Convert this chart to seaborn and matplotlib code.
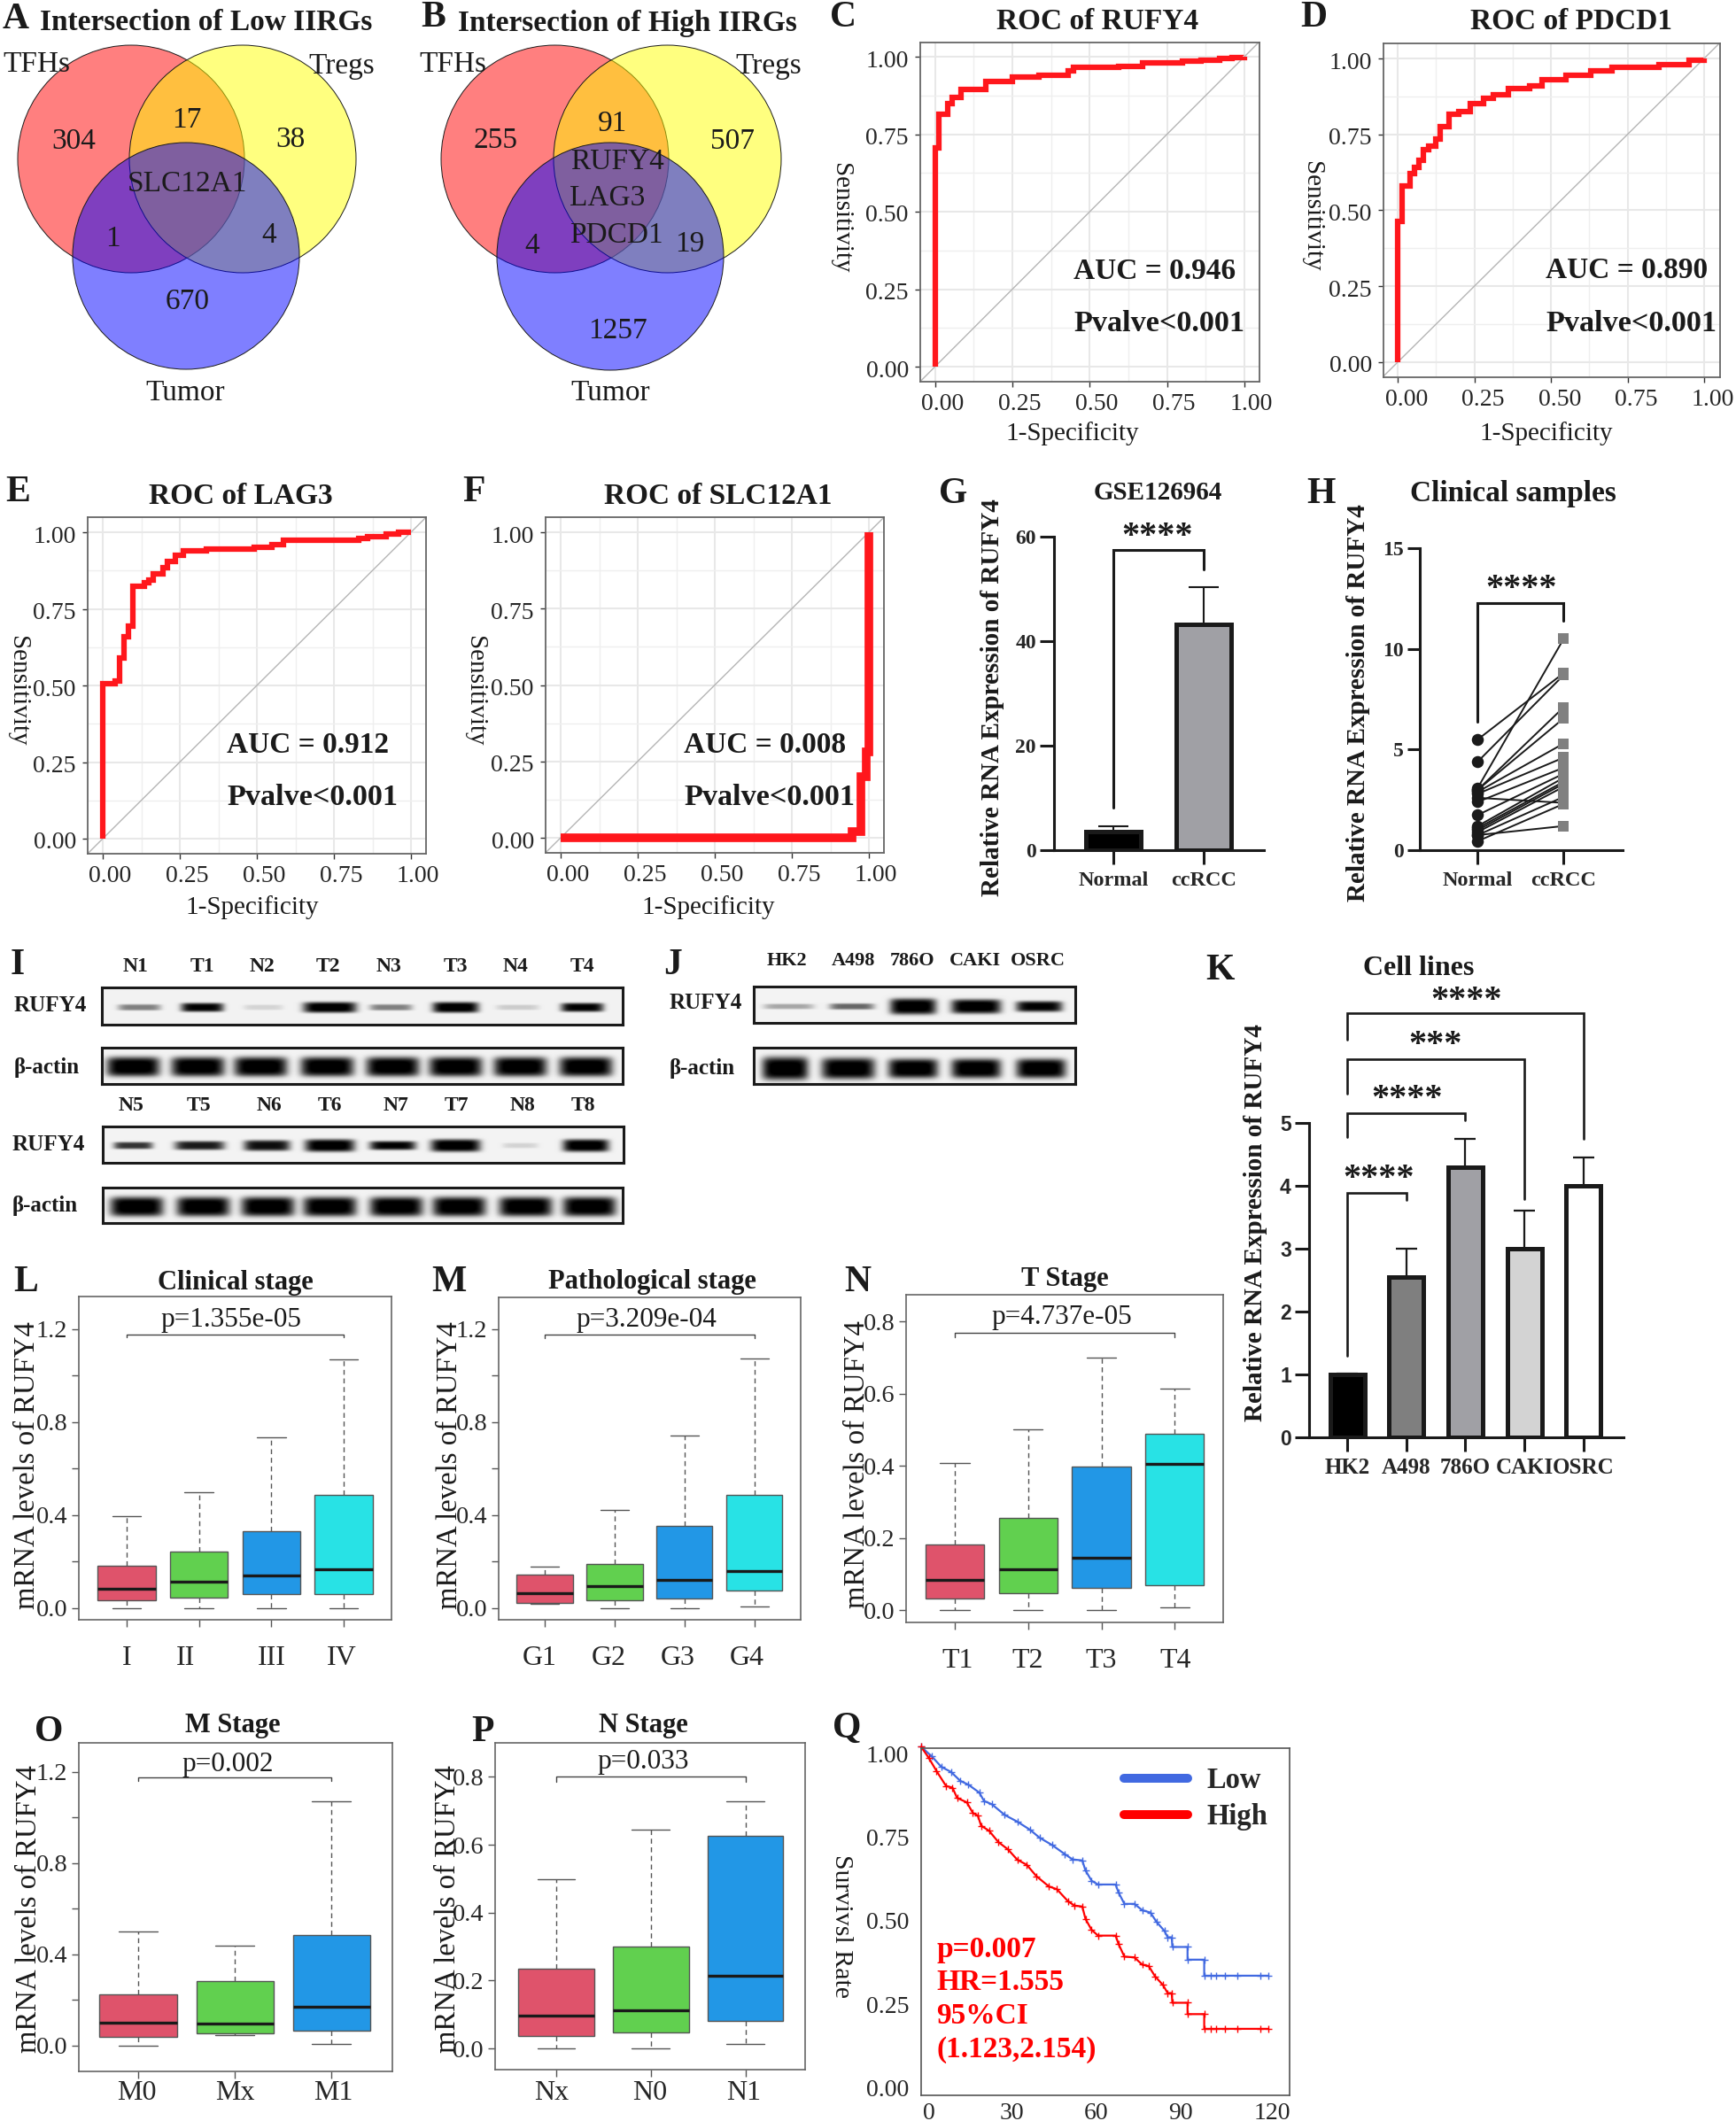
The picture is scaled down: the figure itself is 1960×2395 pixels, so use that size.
import numpy as np
import pandas as pd
import matplotlib
matplotlib.use("Agg")
import matplotlib.pyplot as plt
from matplotlib.patches import Ellipse
from matplotlib.lines import Line2D
from matplotlib.transforms import ScaledTranslation
import seaborn as sns

W, H = 1960, 2395
SERIF = "Liberation Serif"
sns.set_theme(style="white")
plt.rcParams["font.family"] = [SERIF, "DejaVu Sans"]

# ---------------------- data ----------------------
roc_c_x = [0, 0, .012, .04, .055, .084, .165, .25, .337, .43, .447, .594, .67, .80, .86, .92, .96, 1]
roc_c_y = [0, .705, .815, .85, .87, .895, .92, .935, .94, .955, .965, .97, .98, .985, .99, .995, .998, 1]
roc_d_x = [0, 0, .015, .04, .056, .07, .085, .10, .125, .14, .168, .2, .236, .28, .313, .36, .43, .47, .55, .63, .70, .853, .95, 1]
roc_d_y = [0, .465, .58, .62, .64, .665, .70, .71, .735, .775, .815, .825, .85, .87, .88, .90, .91, .93, .945, .96, .97, .98, .995, 1]
roc_e_x = [0, 0, .04, .054, .07, .084, .099, .135, .15, .164, .195, .21, .236, .262, .336, .49, .55, .586, .83, .86, .92, .96, 1]
roc_e_y = [0, .505, .515, .59, .66, .695, .825, .835, .845, .865, .885, .905, .925, .94, .945, .952, .96, .975, .98, .985, .995, 1, 1]
roc_f_x = [0, .945, .975, .99, 1.0]
roc_f_y = [0, .02, .2, .28, 1.0]

g_cats = ["Normal", "ccRCC"]
g_vals = [3.5, 43.3]
g_sd = [1.1, 7.0]

h_normal = [3.1, 5.5, 4.4, 3.0, 3.0, 2.9, 2.6, 2.8, 2.4, 1.75, 1.2, 1.1, 1.0, .9, .75, .45, .75]
h_ccrcc = [10.5, 8.8, 8.7, 7.1, 6.55, 5.3, 2.35, 4.6, 4.1, 3.8, 3.6, 3.4, 3.3, 3.15, 2.65, 2.3, 1.2]

k_cats = ["HK2", "A498", "786O", "CAKI", "OSRC"]
k_vals = [1.0, 2.55, 4.3, 3.0, 4.0]
k_sd = [.02, .45, .45, .6, .45]
k_colors = ["#000000", "#7f7f7f", "#a0a0a5", "#d3d3d3", "#ffffff"]

# box stats: low whisker, Q1, median, Q3, high whisker
l_cats = ["I", "II", "III", "IV"]
l_stats = [[0, .032, .083, .182, .396], [0, .047, .113, .244, .50], [0, .062, .142, .33, .733], [0, .062, .166, .488, 1.07]]
m_cats = ["G1", "G2", "G3", "G4"]
m_stats = [[.019, .024, .064, .145, .179], [0, .034, .093, .191, .421], [0, .041, .121, .355, .744], [.006, .074, .16, .488, 1.073]]
n_cats = ["T1", "T2", "T3", "T4"]
n_stats = [[0, .032, .085, .183, .407], [0, .047, .113, .256, .501], [0, .061, .146, .397, .699], [.007, .069, .405, .489, .615]]
o_cats = ["M0", "Mx", "M1"]
o_stats = [[0, .04, .10, .226, .50], [.048, .053, .095, .285, .44], [.006, .065, .172, .487, 1.07]]
p_cats = ["Nx", "N0", "N1"]
p_stats = [[0, .036, .096, .235, .498], [0, .048, .112, .30, .645], [.012, .08, .215, .625, .729]]
box_colors = ["#DF536B", "#61D04F", "#2297E6", "#28E2E5"]

km_low_t = [0, 3.7, 6.9, 10.2, 13.4, 16.1, 19.9, 21.5, 24.2, 28.6, 32.9, 37.2, 40.5, 44.8, 49.1, 51.8, 55.1, 56.2, 58.3, 60.5, 66.5, 67.5, 69.5, 72.9, 75.6, 78.4, 80.5, 83.2, 84.3, 85.7, 85.9, 91.1, 91.1, 96.8, 96.8, 99, 101, 104, 108, 116, 118.6]
km_low_s = [1.02, .991, .960, .945, .918, .907, .883, .858, .848, .816, .796, .772, .748, .726, .699, .683, .680, .650, .619, .608, .608, .584, .550, .550, .531, .524, .496, .469, .450, .450, .421, .421, .383, .383, .335, .335, .335, .335, .335, .335, .335]
km_high_t = [0, 2.6, 5.3, 8.5, 10.7, 12.3, 15.6, 17.7, 19.4, 20.5, 23.2, 26.4, 29.7, 32.9, 36.1, 39.4, 43.7, 46.4, 50.2, 52.4, 55.1, 56.2, 58.3, 60.5, 66.5, 67.5, 69.5, 72.9, 75.6, 77.8, 80, 82.7, 84.3, 85.7, 85.9, 91.1, 91.1, 96.8, 96.8, 99, 101, 104, 108, 116, 118.6]
km_high_s = [1.02, .987, .947, .903, .898, .867, .854, .822, .814, .784, .769, .735, .713, .682, .667, .633, .602, .594, .558, .545, .542, .505, .472, .455, .455, .430, .392, .390, .368, .364, .333, .307, .283, .283, .254, .254, .220, .220, .176, .176, .176, .176, .176, .176, .176]

# western blot band darkness per lane
i_rufy4_1 = [.45, .95, .12, 1, .45, 1, .15, .95]
i_actin_1 = [1, 1, 1, 1, 1, 1, 1, 1]
i_rufy4_2 = [.75, .85, .9, 1, .95, 1, .12, 1]
i_actin_2 = [1, 1, 1, 1, 1, 1, 1, 1]
j_rufy4 = [.3, .55, 1, 1, .95]
j_actin = [1, 1, 1, 1, 1]
i_top_labels = ["N1", "T1", "N2", "T2", "N3", "T3", "N4", "T4"]
i_bot_labels = ["N5", "T5", "N6", "T6", "N7", "T7", "N8", "T8"]
j_labels = ["HK2", "A498", "786O", "CAKI", "OSRC"]

# ---------------------- helpers ----------------------
fig = plt.figure(figsize=(W / 100, H / 100), dpi=100, facecolor="white")


def ax_px(x0, y0, x1, y1):
    return fig.add_axes([x0 / W, 1 - y1 / H, (x1 - x0) / W, (y1 - y0) / H])


ov = fig.add_axes([0, 0, 1, 1], zorder=20)
ov.set_xlim(0, W)
ov.set_ylim(H, 0)
ov.axis("off")
ov.patch.set_alpha(0)


def T(x, y, s, size, bold=False, rot=0, ha="center", va="center", color="k", family=SERIF):
    return ov.text(x, y + 2.5, s, fontsize=size, fontweight="bold" if bold else "normal", rotation=rot,
                   ha=ha, va=va, color=color, family=family)


def shift(label, dx=0, dy=0):
    label.set_transform(label.get_transform() + ScaledTranslation(dx / 100, -dy / 100, fig.dpi_scale_trans))


LETTER = 30
for s, x, y in [("A", 18, 19), ("B", 489, 18), ("C", 952, 17), ("D", 1483, 17), ("E", 20, 553), ("F", 535, 553),
                ("G", 1076, 555), ("H", 1491, 555), ("I", 20, 1087), ("J", 760, 1088), ("K", 1377, 1093),
                ("L", 29, 1445), ("M", 507, 1445), ("N", 968, 1445), ("O", 55, 1953), ("P", 545, 1953), ("Q", 956, 1949)]:
    T(x, y, s, LETTER, bold=True)

# ---------------------- Venn ----------------------
VR, VY, VB = (1, 0, 0, .5), (1, 1, 0, .5), (0, 0, 1, .5)
for cx, fc in [(148, VR), (274, VY)]:
    ov.add_patch(Ellipse((cx, 179.5), 256, 257, fc=fc, ec="k", lw=.7))
ov.add_patch(Ellipse((210, 289), 256, 256, fc=VB, ec="k", lw=.7))
for cx, fc in [(626.5, VR), (753.5, VY)]:
    ov.add_patch(Ellipse((cx, 179.5), 257, 257, fc=fc, ec="k", lw=.7))
ov.add_patch(Ellipse((689, 289.5), 256, 257, fc=VB, ec="k", lw=.7))
T(233, 23, "Intersection of Low IIRGs", 24, bold=True)
T(708, 24, "Intersection of High IIRGs", 24, bold=True)
for x, y, s in [(41, 70, "TFHs"), (386, 72, "Tregs"), (83, 157, "304"), (211, 133, "17"), (328, 155, "38"),
                (211, 205, "SLC12A1"), (127, 267, "1"), (304, 263, "4"), (212, 338, "670"), (209, 441, "Tumor"),
                (511, 70, "TFHs"), (868, 72, "Tregs"), (559, 156, "255"), (691, 137, "91"), (827, 157, "507"),
                (697, 180, "RUFY4"), (686, 221, "LAG3"), (696, 263, "PDCD1"), (601, 275, "4"), (779, 273, "19"),
                (697, 371, "1257"), (689, 441, "Tumor")]:
    T(x, y, s, 24)


# ---------------------- ROC ----------------------
def roc(box, x0, x1, y1, y0, fx, fy, lw, title, tx, auc, ax_text, ylab_x, xlab, ty, ay, py, xy, xdx=8):
    ax = ax_px(*box)
    ux = (x1 - x0)
    uy = (y0 - y1)
    ax.set_xlim((box[0] - x0) / ux, (box[2] - x0) / ux)
    ax.set_ylim((y0 - box[3]) / uy, (y0 - box[1]) / uy)
    maj = [0, .25, .5, .75, 1]
    ax.set_xticks(maj)
    ax.set_yticks(maj)
    ax.set_xticks([.125, .375, .625, .875], minor=True)
    ax.set_yticks([.125, .375, .625, .875], minor=True)
    ax.set_xticklabels(["0.00", "0.25", "0.50", "0.75", "1.00"])
    ax.set_yticklabels(["0.00", "0.25", "0.50", "0.75", "1.00"])
    ax.grid(True, which="major", color="#e8e8e8", lw=1.5)
    ax.grid(True, which="minor", color="#efefef", lw=1)
    ax.set_axisbelow(True)
    ax.tick_params(which="major", length=4.5, width=1, color="#333333", bottom=True, left=True, labelsize=20, pad=5)
    ax.tick_params(which="minor", length=0)
    for sp in ax.spines.values():
        sp.set_color("#666666")
        sp.set_linewidth(1.3)
    lim = [min(ax.get_xlim()[0], ax.get_ylim()[0]), max(ax.get_xlim()[1], ax.get_ylim()[1])]
    ax.plot(lim, lim, color="#b5b5b5", lw=1)
    sns.lineplot(x=fx, y=fy, ax=ax, color="#ff171c", lw=lw, estimator=None, sort=False,
                 drawstyle="steps-post", solid_joinstyle="miter", solid_capstyle="butt", legend=False)
    ax.set_xlabel("")
    ax.set_ylabel("")
    ax.set_xlim((box[0] - x0) / ux, (box[2] - x0) / ux)
    ax.set_ylim((y0 - box[3]) / uy, (y0 - box[1]) / uy)
    for l in ax.get_xticklabels():
        shift(l, xdx, 0)
    for l in ax.get_yticklabels():
        shift(l, 0, 2)
    T(tx, ty, title, 24, bold=True)
    T(ax_text, ay, auc, 24, bold=True, ha="left")
    T(ax_text, py, "Pvalve<0.001", 24.6, bold=True, ha="left")
    T(ylab_x, (box[1] + box[3]) / 2 + 4, "Sensitivity", 21, rot=270)
    T(xlab, xy, "1-Specificity", 21)


roc((1039, 48, 1422, 431), 1055.7, 1405, 64, 414, roc_c_x, roc_c_y, 4.5, "ROC of RUFY4", 1239, "AUC = 0.946", 1212, 949, 1211, 22, 304, 363, 487)
roc((1562, 49, 1942, 426), 1578, 1924, 66, 409, roc_d_x, roc_d_y, 4.5, "ROC of PDCD1", 1774, "AUC = 0.890", 1745, 1481, 1746, 22, 303, 363, 487, xdx=10)
roc((99, 584, 481, 964), 116, 464, 601, 947, roc_e_x, roc_e_y, 4.5, "ROC of LAG3", 272, "AUC = 0.912", 256, 20, 285, 558, 839, 898, 1022)
roc((616, 584, 998, 963), 633, 981, 601, 946, roc_f_x, roc_f_y, 7, "ROC of SLC12A1", 811, "AUC = 0.008", 772, 536, 800, 558, 839, 898, 1022)


# ---------------------- bars ----------------------
def bracket(ax, x0, x1, top, low0, low1, lw=2.2):
    ax.plot([x0, x0, x1, x1], [low0, top, top, low1], color="k", lw=lw, clip_on=False, solid_joinstyle="miter", zorder=5)


def prism_axes(ax, tlen=11.5, tw=2.2):
    sns.despine(ax=ax)
    for s in ["left", "bottom"]:
        ax.spines[s].set_linewidth(tw)
        ax.spines[s].set_color("k")
    ax.tick_params(axis="both", length=tlen, width=tw, color="k", bottom=True, left=True)


# G
ax = ax_px(1190, 606, 1427, 960)
df = pd.DataFrame({"cat": g_cats, "val": g_vals})
sns.barplot(data=df, x="cat", y="val", hue="cat", palette=["#000000", "#a0a0a5"], saturation=1, legend=False,
            width=.61, edgecolor="k", linewidth=3.6, errorbar=None, ax=ax)
ax.errorbar(range(2), g_vals, yerr=[[0, 0], g_sd], fmt="none", ecolor="k", elinewidth=1.5, capsize=12, capthick=1.5, zorder=1)
ax.set_xlim(-.657, 1.667)
ax.set_ylim(0, 60)
ax.set_yticks([0, 20, 40, 60])
ax.set_xlabel("")
ax.set_ylabel("")
prism_axes(ax)
ax.tick_params(axis="x", labelsize=17.5, pad=6)
ax.tick_params(axis="y", labelsize=17, pad=3)
for l in ax.get_xticklabels() + ax.get_yticklabels():
    l.set_fontweight("bold")
bracket(ax, 0, 1, 57.5, 8.2, 53.8)
T(1120, 785, "Relative RNA Expression of RUFY4", 21, bold=True, rot=90)
T(1307, 554, "GSE126964", 21, bold=True)
T(1307, 604, "****", 29, bold=True)

# H
ax = ax_px(1603, 619, 1832, 960)
ph = pd.DataFrame({"pair": list(range(len(h_normal))) * 2,
                   "group": ["Normal"] * len(h_normal) + ["ccRCC"] * len(h_ccrcc),
                   "val": h_normal + h_ccrcc})
sns.lineplot(data=ph, x="group", y="val", units="pair", estimator=None, color="k", lw=1.4, ax=ax, legend=False)
sns.scatterplot(data=ph[ph.group == "Normal"], x="group", y="val", marker="o", s=95, color="k", linewidth=0, ax=ax, legend=False, clip_on=False, zorder=4)
sns.scatterplot(data=ph[ph.group == "ccRCC"], x="group", y="val", marker="s", s=85, color="#808080", linewidth=0, ax=ax, legend=False, clip_on=False, zorder=4)
ax.set_xlim(-.675, 1.686)
ax.set_ylim(0, 15)
ax.set_yticks([0, 5, 10, 15])
ax.set_xlabel("")
ax.set_ylabel("")
prism_axes(ax, tlen=10)
ax.tick_params(axis="x", labelsize=17.5, pad=6, length=11.5)
ax.tick_params(axis="y", labelsize=17, pad=3)
for l in ax.get_xticklabels() + ax.get_yticklabels():
    l.set_fontweight("bold")
bracket(ax, 0, 1, 12.27, 6.39, 11.38)
T(1533, 791, "Relative RNA Expression of RUFY4", 21, bold=True, rot=90)
T(1708, 555, "Clinical samples", 24, bold=True)
T(1718, 663, "****", 29, bold=True)

# K
ax = ax_px(1478, 1268, 1833, 1623)
df = pd.DataFrame({"cat": k_cats, "val": k_vals})
sns.barplot(data=df, x="cat", y="val", hue="cat", palette=k_colors, saturation=1, legend=False,
            width=.585, edgecolor="k", linewidth=3.6, errorbar=None, ax=ax)
ax.errorbar(range(5), k_vals, yerr=[[0] * 5, k_sd], fmt="none", ecolor="k", elinewidth=1.6, capsize=8.5, capthick=1.6, zorder=1)
ax.set_xlim(-.645, 4.68)
ax.set_ylim(0, 5)
ax.set_yticks(range(6))
ax.set_xlabel("")
ax.set_ylabel("")
prism_axes(ax)
ax.tick_params(axis="x", labelsize=18, pad=5)
ax.tick_params(axis="y", labelsize=16.5, pad=3)
for l in ax.get_xticklabels():
    l.set_fontweight("bold")
for l in ax.get_yticklabels():
    l.set_family("Liberation Sans")
    l.set_fontweight("bold")
bracket(ax, 0, 1, 3.89, 1.29, 3.78, lw=1.9)
bracket(ax, 0, 2, 5.16, 4.78, 5.04, lw=1.9)
bracket(ax, 0, 3, 6.02, 5.46, 3.79, lw=1.9)
bracket(ax, 0, 4, 6.75, 6.32, 4.75, lw=1.9)
T(1417, 1378, "Relative RNA Expression of RUFY4", 21, bold=True, rot=90)
T(1602, 1091, "Cell lines", 23, bold=True)
for x, y, s in [(1557, 1329, "****"), (1589, 1239, "****"), (1621, 1178, "***"), (1656, 1128, "****")]:
    T(x, y, s, 29, bold=True)


# ---------------------- box plots ----------------------
def boxes(box, cats, stats, xlim, ylim, yticks, minor, br_y, br_low, ptext, px, py, title, tx, ty, ylx, yly, lab_dx, pad=15):
    ax = ax_px(*box)
    df = pd.DataFrame({"cat": [c for c in cats for _ in range(5)], "val": [v for s in stats for v in s]})
    sns.boxplot(data=df, x="cat", y="val", hue="cat", palette=box_colors[:len(cats)], saturation=1, legend=False,
                width=.8, whis=(0, 100), showfliers=False, linewidth=1, linecolor="#555555", ax=ax,
                medianprops={"color": "k", "lw": 2.4},
                whiskerprops={"color": "#555555", "ls": (0, (4, 3)), "lw": 1},
                capprops={"color": "#555555", "lw": 1}, capwidths=.4)
    ax.set_xlim(*xlim)
    ax.set_ylim(*ylim)
    ax.set_yticks(yticks)
    ax.set_yticklabels([f"{v:.1f}" for v in yticks])
    if minor:
        ax.set_yticks(minor, minor=True)
    ax.set_xlabel("")
    ax.set_ylabel("")
    ax.tick_params(axis="both", which="major", length=6, width=1, color="#555555", bottom=True, left=True)
    ax.tick_params(axis="y", which="minor", length=6, width=1, color="#555555", left=True)
    ax.tick_params(axis="x", labelsize=23, pad=pad)
    ax.tick_params(axis="y", labelsize=20.5, pad=3)
    for sp in ax.spines.values():
        sp.set_color("#666666")
        sp.set_linewidth(1.2)
    for l, d in zip(ax.get_xticklabels(), lab_dx):
        shift(l, d, 0)
    last = len(cats) - 1
    ax.plot([0, 0, last, last], [br_low, br_y, br_y, br_low], color="#444444", lw=1, zorder=4)
    T(px, py, ptext, 22.5)
    T(tx, ty, title, 22, bold=True)
    T(ylx, yly, "mRNA levels of RUFY4", 23.6, rot=90)


big = [0, .4, .8, 1.2]
big_minor = [.2, .6, 1.0]
small = [0, .2, .4, .6, .8]
boxes((89, 1464, 442, 1829), l_cats, l_stats, (-.66, 3.66), (-.05, 1.34), big, big_minor, 1.178, 1.163, "p=1.355e-05", 261, 1488, "Clinical stage", 266, 1446, 31, 1652, [0, -15, 0, -2])
boxes((563, 1465, 904, 1829), m_cats, m_stats, (-.658, 3.66), (-.05, 1.337), big, big_minor, 1.178, 1.163, "p=3.209e-04", 730, 1488, "Pathological stage", 736, 1445, 508, 1652, [-6, -7, -8, -9])
boxes((1023, 1462, 1381, 1832), n_cats, n_stats, (-.665, 3.66), (-.034, .874), small, None, .769, .757, "p=4.737e-05", 1199, 1485, "T Stage", 1202, 1442, 968, 1651, [3, -1, 0, 1])
boxes((89, 1968, 443, 2339), o_cats, o_stats, (-.615, 2.63), (-.113, 1.328), big, big_minor, 1.176, 1.16, "p=0.002", 257, 1990, "M Stage", 263, 1946, 33, 2153, [-2, 0, 2], pad=1.5)
boxes((559, 1968, 909, 2337), p_cats, p_stats, (-.645, 2.63), (-.0625, .90), small, None, .80, .785, "p=0.033", 726, 1987, "N Stage", 726, 1946, 506, 2153, [-5, -1, -2], pad=2.5)

# ---------------------- KM ----------------------
ax = ax_px(1040, 1974, 1456, 2366)
sns.lineplot(x=km_low_t, y=km_low_s, ax=ax, color="#4169E1", lw=1.6, estimator=None, sort=False, marker="+", markersize=6,
             markeredgewidth=1, markeredgecolor="#4169E1", clip_on=False, legend=False)
sns.lineplot(x=km_high_t, y=km_high_s, ax=ax, color="#FF0000", lw=1.6, estimator=None, sort=False, marker="+", markersize=6,
             markeredgewidth=1, markeredgecolor="#FF0000", clip_on=False, legend=False)
ax.set_xlim(0, 126)
ax.set_ylim(-.023, 1.016)
ax.set_xticks([0, 30, 60, 90, 120])
ax.set_yticks([0, .25, .5, .75, 1])
ax.set_yticklabels(["0.00", "0.25", "0.50", "0.75", "1.00"])
ax.set_xlabel("")
ax.set_ylabel("")
ax.tick_params(axis="both", length=0, labelsize=20)
ax.tick_params(axis="y", pad=10)
ax.tick_params(axis="x", pad=6)
for sp in ax.spines.values():
    sp.set_color("#555555")
    sp.set_linewidth(1.2)
for l, d in zip(ax.get_xticklabels(), [9, 3, -1, -4, 0]):
    shift(l, d, 0)
ax.legend(handles=[Line2D([], [], color="#4169E1", lw=7.2, solid_capstyle="round"),
                   Line2D([], [], color="#FF0000", lw=7.2, solid_capstyle="round")],
          labels=["Low", "High"], loc="upper left", bbox_to_anchor=(1240 / W, 1 - 1966 / H), bbox_transform=fig.transFigure,
          frameon=False, prop={"family": SERIF, "weight": "bold", "size": 23.5}, handlelength=2.2, handletextpad=.65, labelspacing=.3)
for s, y in [("p=0.007", 2199), ("HR=1.555", 2236), ("95%CI", 2274), ("(1.123,2.154)", 2312)]:
    T(1057, y, s, 24, bold=True, ha="left", color="#FF0000")
T(950, 2172, "Survivsl Rate", 21.5, rot=270)


# ---------------------- western blots ----------------------
def blot(box, lanes, dark, half_w, half_h, cy):
    ax = ax_px(*box)
    x0, y0, x1, y1 = box
    Y, X = np.mgrid[y0:y1, x0:x1].astype(float)
    img = np.full(X.shape, .95)
    for cx, d, w, h in zip(lanes, dark, half_w, half_h):
        img -= d * np.exp(-((X - cx) / w) ** 6) * np.exp(-((Y - cy) / h) ** 4)
    ax.imshow(np.clip(img, 0, 1), cmap="gray", vmin=0, vmax=1, aspect="auto", interpolation="bilinear")
    ax.set_xticks([])
    ax.set_yticks([])
    for sp in ax.spines.values():
        sp.set_color("k")
        sp.set_linewidth(2.2)


blot((115, 1115, 703, 1157), [157, 228, 297, 372, 441, 514, 584, 657], i_rufy4_1, [24, 24, 22, 30, 24, 26, 24, 24], [3.5, 5, 3, 6, 3.5, 6, 3, 5], 1137)
blot((115, 1183, 703, 1224), [150, 223, 294, 369, 443, 514, 587, 661], i_actin_1, [30] * 8, [11] * 8, 1204)
blot((116, 1272, 704, 1313), [150, 225, 301, 372, 443, 514, 587, 661], i_rufy4_2, [22, 28, 26, 28, 26, 28, 20, 26], [4, 5, 6, 7, 5, 7, 3, 7], 1293)
blot((116, 1341, 703, 1381), [154, 229, 302, 372, 447, 518, 593, 665], i_actin_2, [30] * 8, [11] * 8, 1362)
blot((851, 1114, 1214, 1155), [890, 961, 1030, 1101, 1172], j_rufy4, [28, 25, 26, 28, 26], [3, 3.5, 9, 8, 6], 1136)
blot((851, 1183, 1214, 1224), [886, 957, 1030, 1101, 1174], j_actin, [26, 30, 28, 28, 28], [13, 12, 11, 11, 11], 1206)

for x, s in zip([153, 228, 296, 370, 439, 514, 582, 657], i_top_labels):
    T(x, 1089, s, 17, bold=True)
for x, s in zip([148, 224, 304, 372, 447, 515, 590, 658], i_bot_labels):
    T(x, 1246, s, 17, bold=True)
for x, s in zip([888, 963, 1030, 1101, 1172], j_labels):
    T(x, 1083, s, 16, bold=True)
for x, y, s in [(16, 1133, "RUFY4"), (16, 1203, "β-actin"), (14, 1290, "RUFY4"), (14, 1359, "β-actin"),
                (756, 1130, "RUFY4"), (756, 1204, "β-actin")]:
    T(x, y, s, 18, bold=True, ha="left")

fig.savefig("out.png", dpi=100, facecolor="white")
